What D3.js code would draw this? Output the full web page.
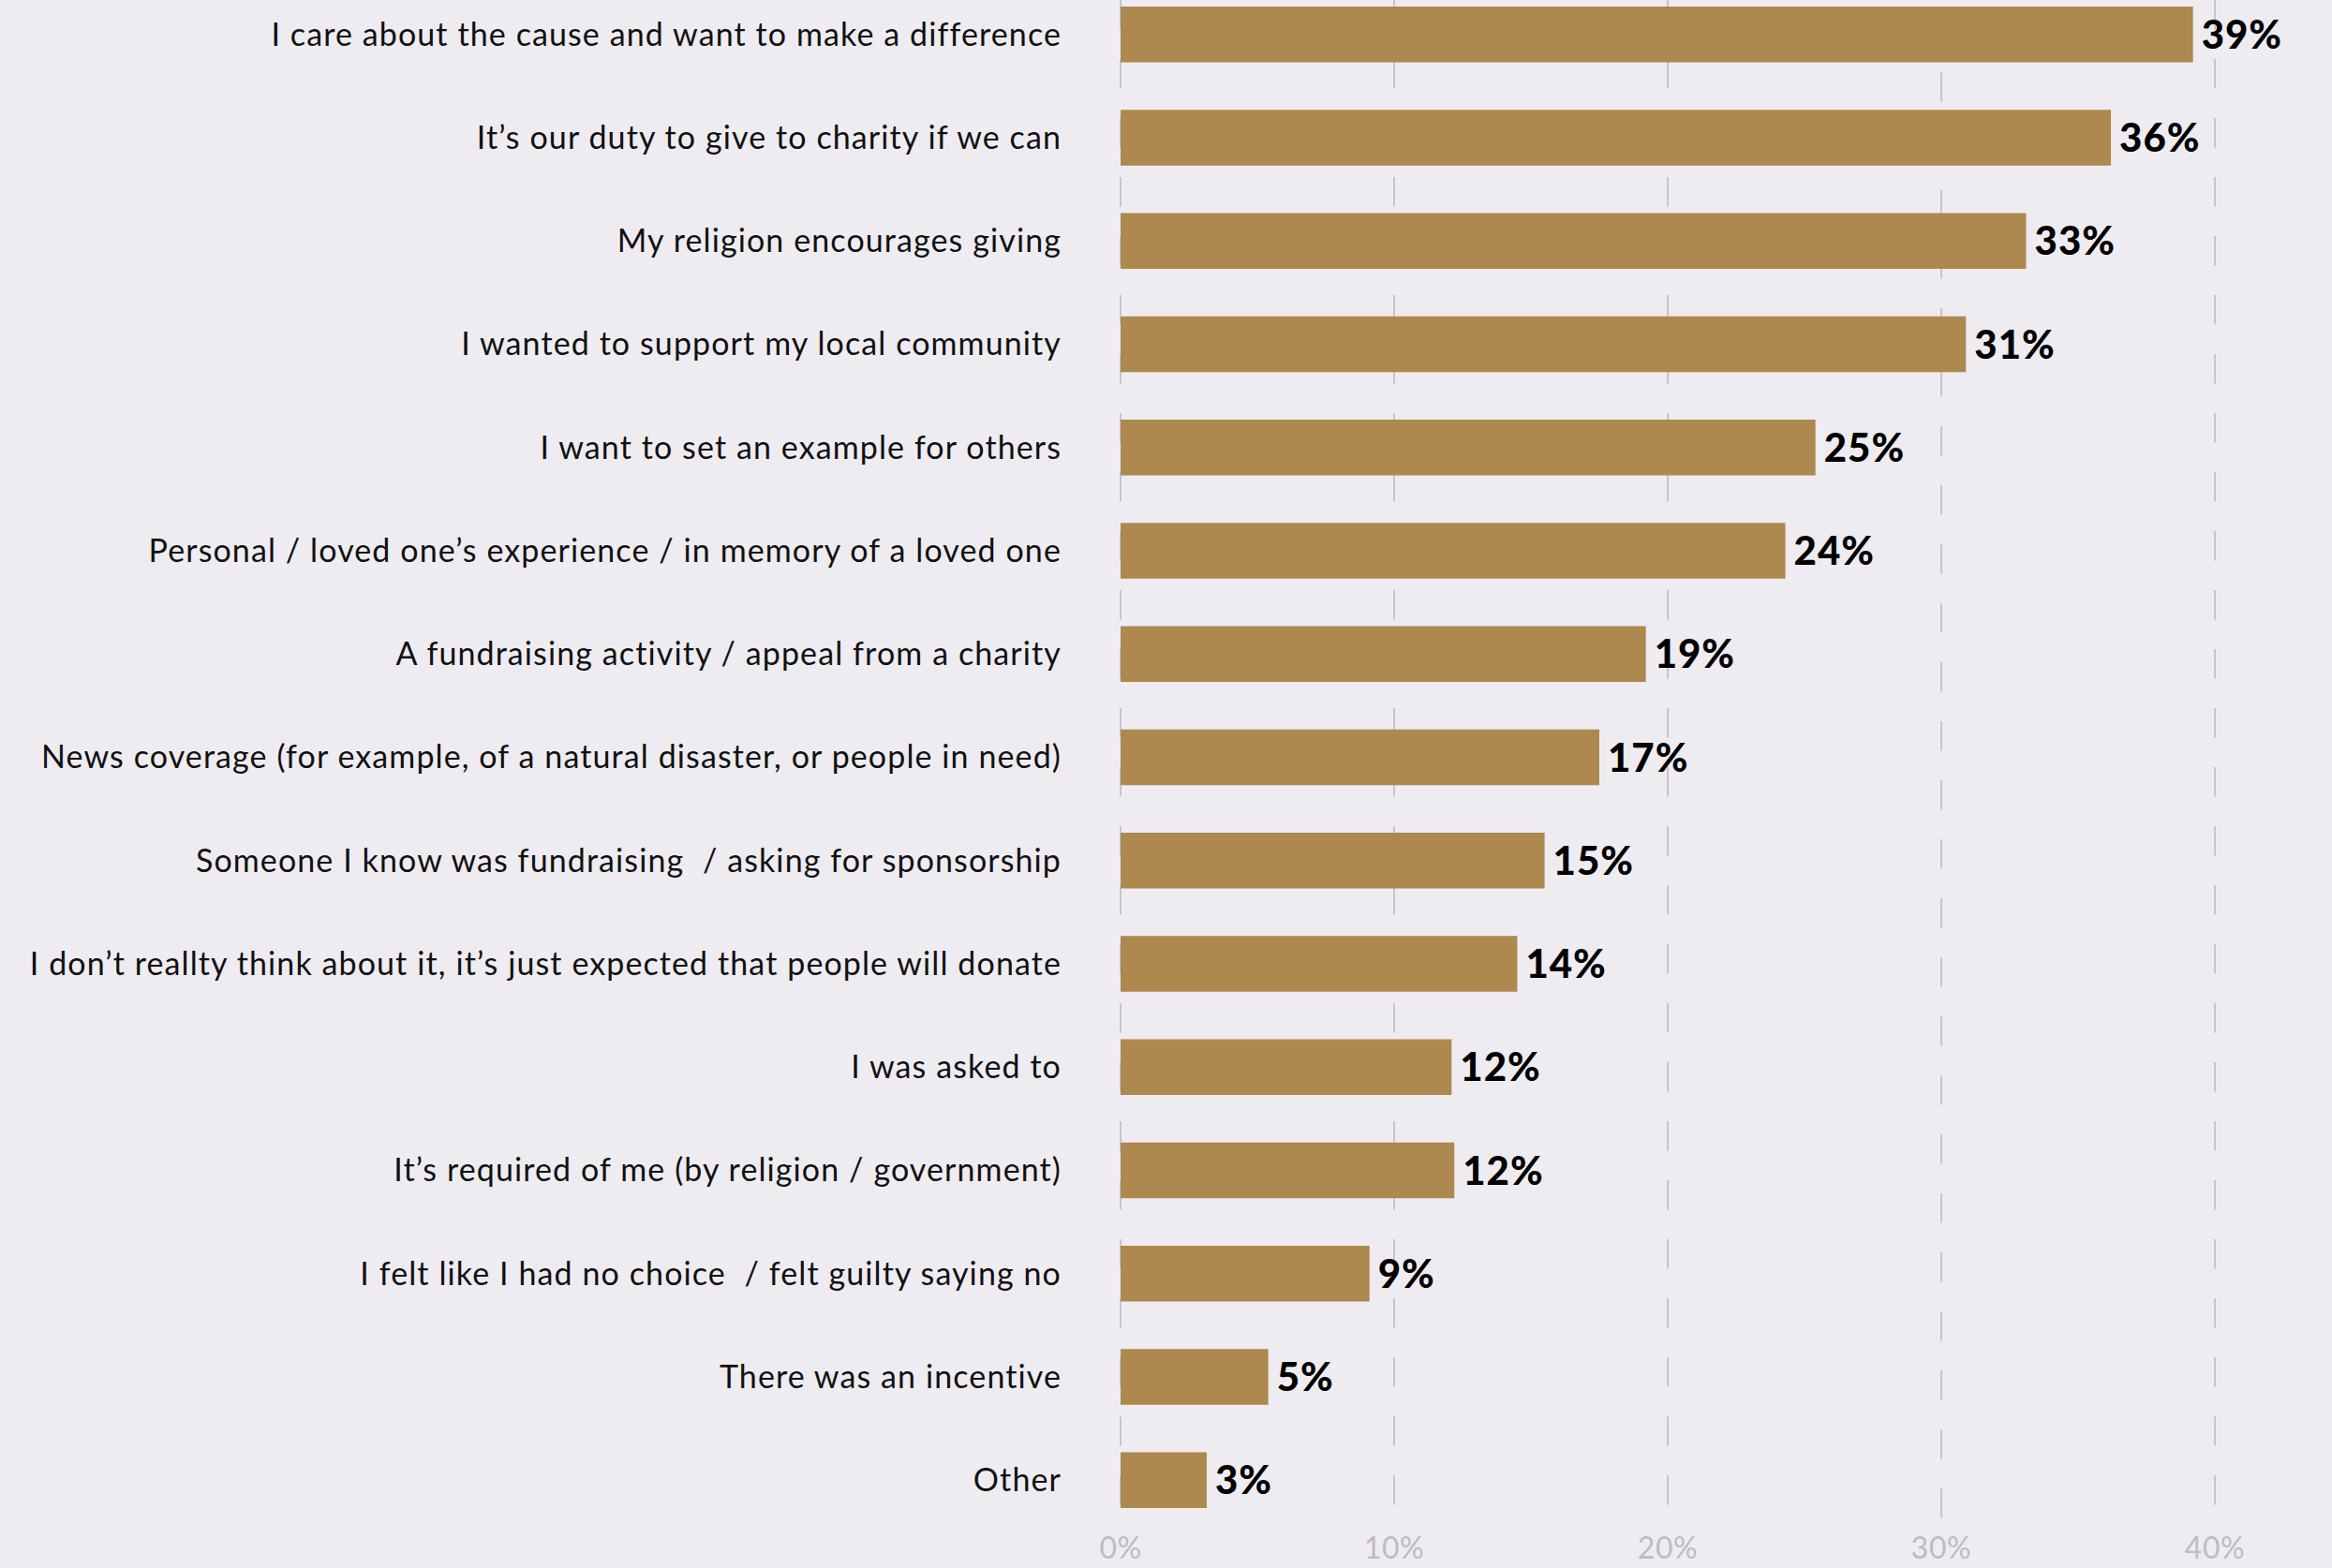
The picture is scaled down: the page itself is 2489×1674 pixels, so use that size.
<!DOCTYPE html>
<html>
<head>
<meta charset="utf-8">
<script src="https://cdn.jsdelivr.net/npm/d3@7"></script>
<style>
  html, body { margin: 0; padding: 0; background: #eeecf1; }
  svg { display: block; }
</style>
</head>
<body>
<div id="svg-container"></div>
<script>
// data
const reasons = [
    "I care about the cause and want to make a difference",
    "It’s our duty to give to charity if we can",
    "My religion encourages giving",
    "I wanted to support my local community",
    "I want to set an example for others",
    "Personal / loved one’s experience / in memory of a loved one",
    "A fundraising activity / appeal from a charity",
    "News coverage (for example, of a natural disaster, or people in need)",
    "Someone I know was fundraising  / asking for sponsorship",
    "I don’t reallty think about it, it’s just expected that people will donate",
    "I was asked to",
    "It’s required of me (by religion / government)",
    "I felt like I had no choice  / felt guilty saying no",
    "There was an incentive",
    "Other"
]
const shares = [39.2, 36.2, 33.1, 30.9, 25.4, 24.3, 19.2, 17.5, 15.5, 14.5, 12.1, 12.2, 9.1, 5.4, 3.15]
const shareLabels = ["39%", "36%", "33%", "31%", "25%", "24%", "19%", "17%", "15%", "14%", "12%", "12%", "9%", "5%", "3%"]
const xTicks = [0, 10, 20, 30, 40]

const rows = reasons.map((r, i) => ({reason: r, share: shares[i], label: shareLabels[i]}))

// dimensions
const dim = {
    width: 2489,
    height: 1674,
    left: 1196,
    right: 2364
}

const svg = d3.select("#svg-container")
    .append("svg")
        .attr("width", dim.width)
        .attr("height", dim.height)

svg.append("rect")
    .attr("width", dim.width)
    .attr("height", dim.height)
    .attr("fill", "#eeecf1")

// scales
const xScale = d3.scaleLinear()
    .domain([0, 40])
    .range([dim.left, dim.right])

const yScale = d3.scaleBand()
    .domain(reasons)
    .range([7, 1610])
    .paddingInner(0.46)
    .paddingOuter(0)

// dashed gridlines
svg.append("g")
    .selectAll("line")
    .data(xTicks)
    .join("line")
        .attr("x1", d => xScale(d))
        .attr("x2", d => xScale(d))
        .attr("y1", 0)
        .attr("y2", 1636)
        .attr("stroke", "#c6c5ca")
        .attr("stroke-width", 2)
        .attr("stroke-dasharray", "31.5 31.5")
        .attr("stroke-dashoffset", d => d === 30 ? 49 : 0)

// bars
svg.append("g")
    .selectAll("rect")
    .data(rows)
    .join("rect")
        .attr("x", xScale(0))
        .attr("y", d => yScale(d.reason))
        .attr("width", d => xScale(d.share) - xScale(0))
        .attr("height", yScale.bandwidth())
        .attr("fill", "#ad894f")

// category labels
svg.append("g")
    .selectAll("text")
    .data(rows)
    .join("text")
        .attr("x", 1133)
        .attr("y", d => yScale(d.reason) + yScale.bandwidth() / 2)
        .attr("dy", "0.35em")
        .attr("text-anchor", "end")
        .attr("font-family", "Lato, sans-serif")
        .attr("font-size", 34)
        .attr("letter-spacing", 1.1)
        .style("white-space", "pre")
        .attr("fill", "#111")
        .text(d => d.reason)

// value labels
svg.append("g")
    .selectAll("text")
    .data(rows)
    .join("text")
        .attr("x", d => xScale(d.share) + 9)
        .attr("y", d => yScale(d.reason) + yScale.bandwidth() / 2)
        .attr("dy", "0.36em")
        .attr("font-family", "Lato, sans-serif")
        .attr("font-weight", 900)
        .attr("font-size", 42)
        .attr("letter-spacing", 1)
        .attr("fill", "#000")
        .text(d => d.label)

// x axis labels
svg.append("g")
    .selectAll("text")
    .data(xTicks)
    .join("text")
        .attr("x", d => xScale(d))
        .attr("y", 1664)
        .attr("text-anchor", "middle")
        .attr("font-family", "Lato, sans-serif")
        .attr("font-size", 32)
        .attr("letter-spacing", 0.5)
        .attr("fill", "#bdbcc0")
        .text(d => d + "%")
</script>
</body>
</html>
